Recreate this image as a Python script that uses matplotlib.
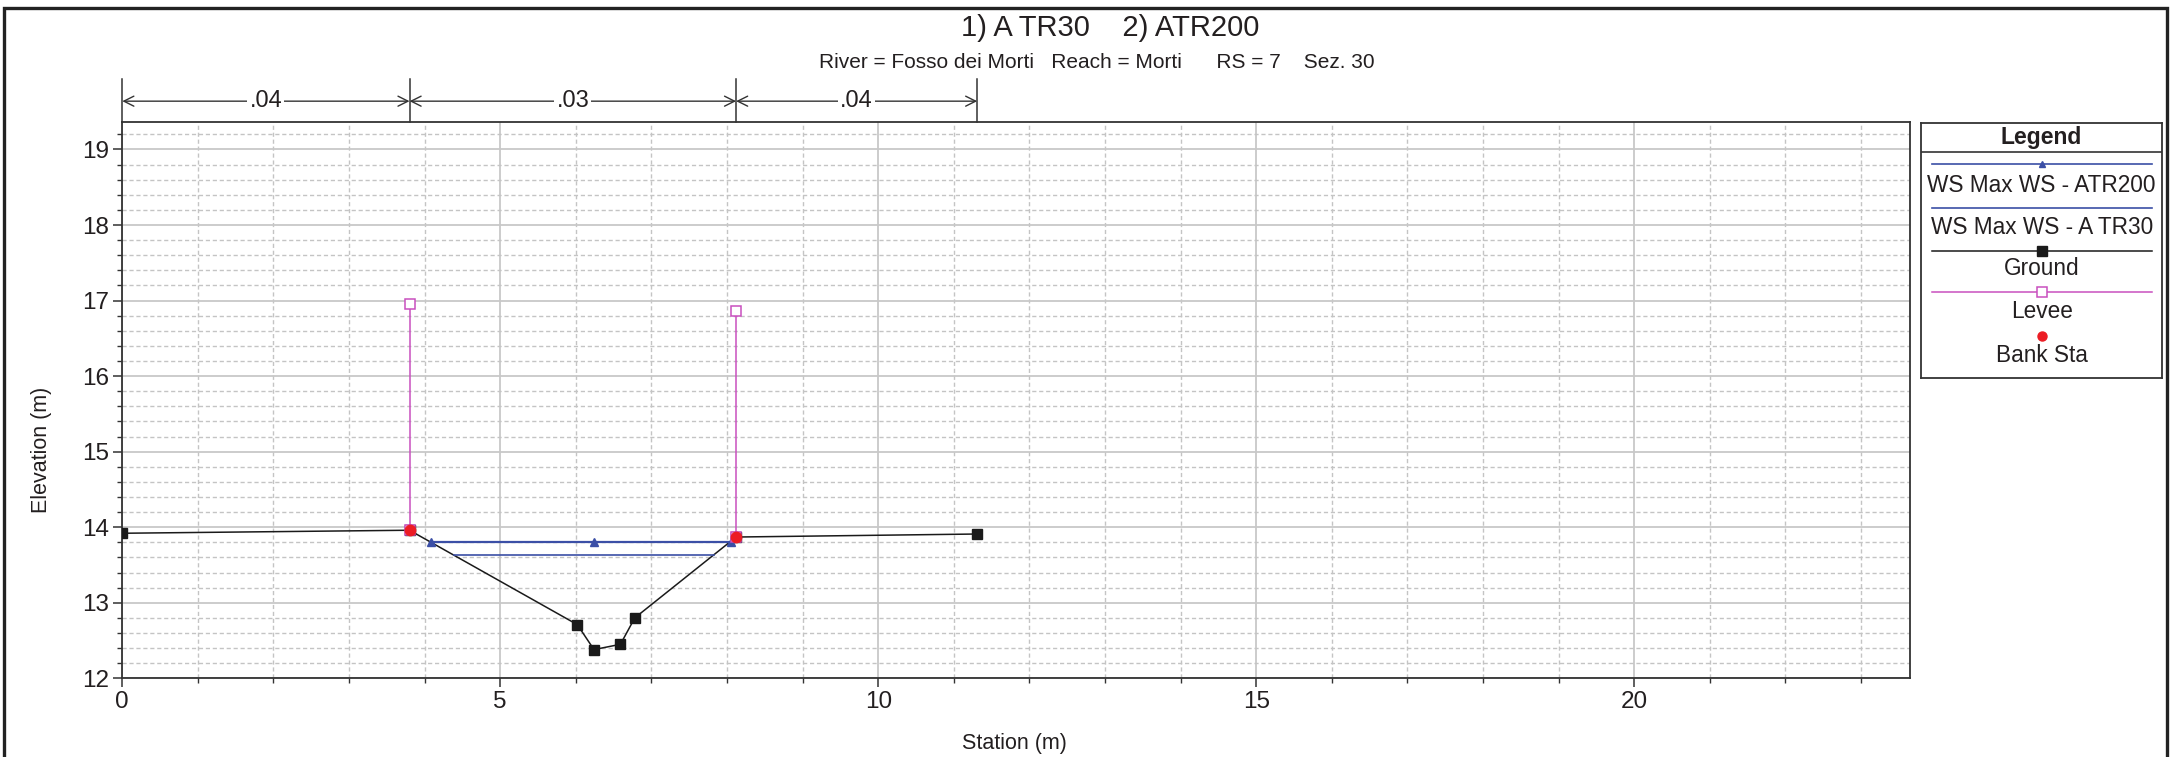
import matplotlib

matplotlib.use("Agg")
import matplotlib.pyplot as plt
from matplotlib.patches import Rectangle
from matplotlib.ticker import MultipleLocator
from matplotlib.transforms import blended_transform_factory

plt.rcParams["font.family"] = ["Liberation Sans", "DejaVu Sans"]

ground_sta = [0.0, 3.80, 6.02, 6.24, 6.59, 6.78, 8.12, 11.31]
ground_elev = [13.92, 13.96, 12.71, 12.38, 12.45, 12.80, 13.87, 13.91]

ws200_sta = [4.08, 6.24, 8.05]
ws200_elev = [13.81, 13.81, 13.81]
ws30_sta = [4.39, 7.83]
ws30_elev = [13.63, 13.63]

levee_sta = [3.80, 8.12]
levee_base = [13.96, 13.87]
levee_top = [16.96, 16.86]

bank_sta = [3.80, 8.12]
bank_elev = [13.96, 13.87]

n_breaks = [0.0, 3.80, 8.12, 11.31]
n_values = [".04", ".03", ".04"]

legend_labels = ["WS Max WS - ATR200", "WS Max WS - A TR30", "Ground", "Levee", "Bank Sta"]

TXT = "#231f20"
BLUE = "#3b4fa6"
MAG = "#c94fbf"
RED = "#ec1c24"

W, H = 2170, 757
fig = plt.figure(figsize=(W / 100, H / 100), dpi=100)

# marco exterior
fig.add_artist(Rectangle((3.5 / W, -0.1), (2167 - 3.5) / W, (H - 8) / H + 0.1,
                         transform=fig.transFigure, fill=False, lw=2.4, ec="#222222"))

ax = fig.add_axes([122.3 / W, 1 - 678.3 / H, (1910 - 122.3) / W, (678.3 - 122.3) / H])
ax.set_xlim(0, 23.65)
ax.set_ylim(12, 19.36)

ax.xaxis.set_major_locator(MultipleLocator(5))
ax.xaxis.set_minor_locator(MultipleLocator(1))
ax.yaxis.set_major_locator(MultipleLocator(1))
ax.yaxis.set_minor_locator(MultipleLocator(0.2))
ax.grid(which="major", color="#c8c8c8", lw=1.3, ls="-")
ax.grid(which="minor", color="#c4c4c4", lw=1.0, ls=(0, (3, 2)))
ax.set_axisbelow(True)
ax.tick_params(which="major", length=6.5, width=1.1, color="#333333",
               labelsize=17.5, labelcolor=TXT, pad=3)
ax.tick_params(which="minor", length=3.5, width=1.0, color="#333333")
for sp in ax.spines.values():
    sp.set_linewidth(1.3)
    sp.set_color("#333333")

# terreno
ax.plot(ground_sta, ground_elev, "-", color="#1a1a1a", lw=1.1, zorder=3)
ax.plot(ground_sta, ground_elev, "s", color="#1a1a1a", ms=7.5, zorder=4)
# pelo libero
ax.plot([ws30_sta[0], ws30_sta[-1]], [ws30_elev[0], ws30_elev[-1]], "-", color=BLUE, lw=1.2, zorder=3)
ax.plot([ws200_sta[0], ws200_sta[-1]], [ws200_elev[0], ws200_elev[-1]], "-", color=BLUE, lw=1.6, zorder=3)
ax.plot(ws200_sta, ws200_elev, "^", color=BLUE, ms=5.5, zorder=4)
# argini
for s, b, t in zip(levee_sta, levee_base, levee_top):
    ax.plot([s, s], [b, t], "-", color=MAG, lw=1.1, zorder=3)
    ax.plot([s, s], [b, t], "s", mfc="white", mec=MAG, mew=1.1, ms=6.5, zorder=4)
ax.plot(bank_sta, bank_elev, "o", color=RED, ms=7.5, zorder=5)

# coefficienti di Manning sopra il grafico
tr = blended_transform_factory(ax.transData, ax.transAxes)
for s in n_breaks:
    ax.plot([s, s], [1.0, 1.078], color="#333333", lw=1.1, transform=tr, clip_on=False)
for i, lab in enumerate(n_values):
    x0, x1 = n_breaks[i], n_breaks[i + 1]
    ax.annotate("", xy=(x0, 1.038), xytext=(x1, 1.038), xycoords=tr, textcoords=tr,
                arrowprops=dict(arrowstyle="<->", color="#333333", lw=1.0,
                                shrinkA=0, shrinkB=0, mutation_scale=18))
    ax.text((x0 + x1) / 2, 1.038, lab, transform=tr, ha="center", va="center",
            fontsize=17, color=TXT, bbox=dict(fc="white", ec="none", pad=1.5))

fig.text(1014 / W, 1 - 743 / H, "Station (m)", ha="center", va="center", fontsize=15.5, color=TXT)
fig.text(42 / W, 1 - 450 / H, "Elevation (m)", ha="center", va="center", rotation=90,
         fontsize=15.5, color=TXT)

fig.text(1110 / W, 1 - 28 / H, "1) A TR30    2) ATR200", ha="center", va="center",
         fontsize=21, color=TXT)
fig.text(1097 / W, 1 - 62 / H, "River = Fosso dei Morti   Reach = Morti      RS = 7    Sez. 30",
         ha="center", va="center", fontsize=15, color=TXT)

# legenda disegnata a mano (stile HEC-RAS)
lx0, lx1, ly0, ly1 = 1921, 2162, 123.3, 377.7
lg = fig.add_axes([lx0 / W, 1 - ly1 / H, (lx1 - lx0) / W, (ly1 - ly0) / H])
lg.set_xlim(0, lx1 - lx0)
lg.set_ylim(ly1 - ly0, 0)
lg.set_xticks([])
lg.set_yticks([])
for sp in lg.spines.values():
    sp.set_linewidth(1.3)
    sp.set_color("#333333")
lg.axhline(29, color="#333333", lw=1.2)
lg.text(120.5, 14, "Legend", ha="center", va="center", fontsize=16.5, fontweight="bold", color=TXT)

xa, xb, xm = 10.7, 231.3, 120.7
row_line = [41, 84.4, 127.4, 169.0, 212.7]
row_text = [62, 104.4, 145, 188.4, 231.7]
lg.plot([xa, xb], [row_line[0]] * 2, color=BLUE, lw=1.2)
lg.plot([xm], [row_line[0]], "^", color=BLUE, ms=5)
lg.plot([xa, xb], [row_line[1]] * 2, color=BLUE, lw=1.2)
lg.plot([xa, xb], [row_line[2]] * 2, color="#1a1a1a", lw=1.1)
lg.plot([xm], [row_line[2]], "s", color="#1a1a1a", ms=6.5)
lg.plot([xa, xb], [row_line[3]] * 2, color=MAG, lw=1.1)
lg.plot([xm], [row_line[3]], "s", mfc="white", mec=MAG, mew=1.1, ms=6.5)
lg.plot([xm], [row_line[4]], "o", color=RED, ms=6.5)
for y, lab in zip(row_text, legend_labels):
    lg.text(xm, y, lab, ha="center", va="center", fontsize=16.3, color=TXT)

fig.savefig("out.png", dpi=100)
